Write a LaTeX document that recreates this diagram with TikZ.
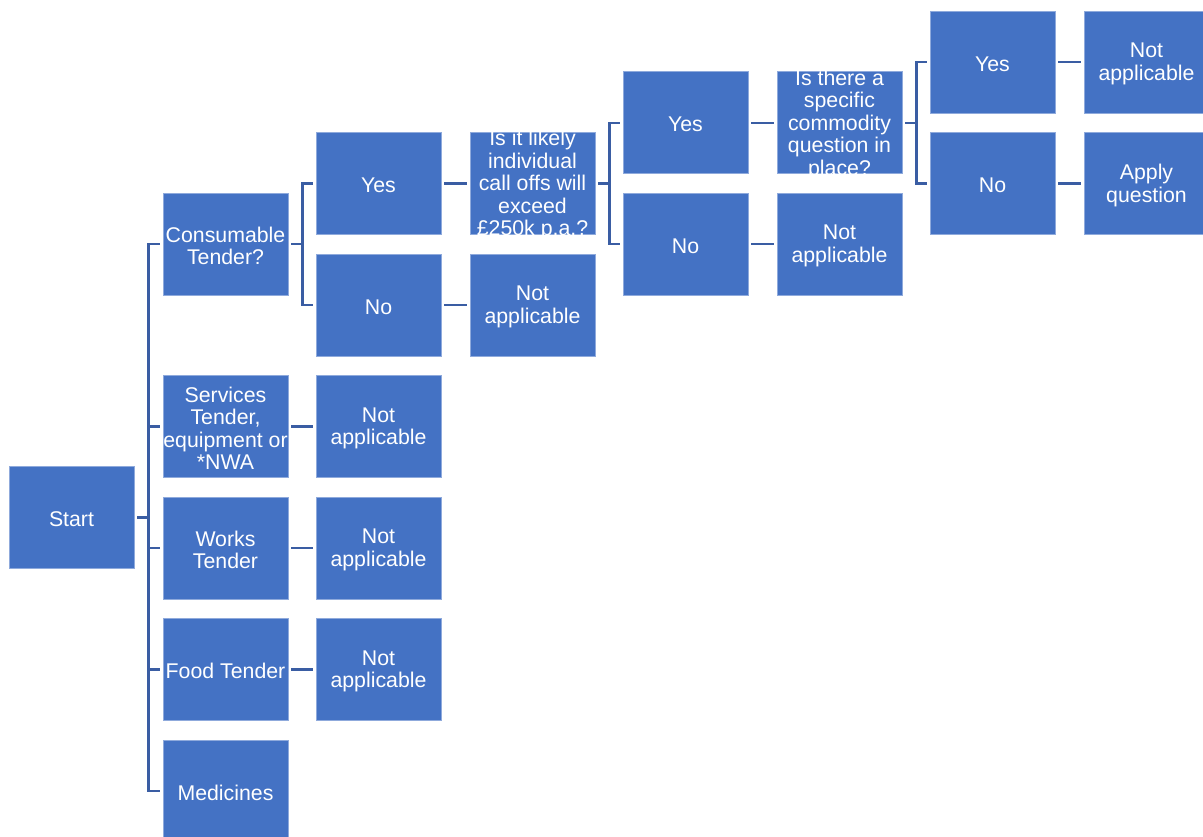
\documentclass[tikz,border=0pt]{standalone}
\usepackage{fontspec}
\setmainfont{Liberation Sans}
\definecolor{boxblue}{HTML}{4472C4}
\definecolor{boxedge}{HTML}{8FAADC}
\definecolor{linkblue}{HTML}{3A5DA3}
\tikzset{
  box/.style={rectangle, fill=boxblue, draw=boxedge, line width=0.6pt,
    minimum width=125pt, minimum height=102pt, inner sep=0pt},
  txt/.style={text=white, align=center, inner sep=0pt,
    font=\fontsize{21.3}{22.5}\selectfont},
  conn/.style={draw=linkblue, line width=2.4pt, shorten <=3pt, shorten >=3pt},
}
\newcommand\bx[4]{%
  \node[box] (#1) at (#2,#3) {};
  \node[txt] (#1-t) at ([yshift=-1.8pt]#1.center) {#4};}
\newcommand\link[2]{\draw[conn] (#1.east) -- ++(14.3pt,0) |- (#2.west);}
\begin{document}
\begin{tikzpicture}[x=1pt,y=-1pt]
\useasboundingbox (0,0) rectangle (1203,836);
\clip (0,0) rectangle (1203,836);
% columns
\def\ca{71.5}\def\cb{225.5}\def\cc{378.5}\def\cd{532.5}
\def\ce{685.5}\def\cf{839.5}\def\cg{992.5}\def\ch{1146.5}
% rows
\def\ra{62}\def\rb{122.75}\def\rc{183.5}\def\rd{244.25}\def\re{305}
\def\rg{426.5}\def\ri{548}\def\rk{669.5}\def\rm{791}
\bx{start}{\ca}{517.6}{Start}
\bx{cons}{\cb}{\rd}{Consumable\\Tender?}
\bx{serv}{\cb}{\rg}{Services\\Tender,\\equipment or\\*NWA}
\bx{works}{\cb}{\ri}{Works\\Tender}
\bx{food}{\cb}{\rk}{Food Tender}
\bx{med}{\cb}{\rm}{Medicines}
\bx{yesa}{\cc}{\rc}{Yes}
\bx{noa}{\cc}{\re}{No}
\bx{naa}{\cc}{\rg}{Not\\applicable}
\bx{nab}{\cc}{\ri}{Not\\applicable}
\bx{nac}{\cc}{\rk}{Not\\applicable}
\bx{qa}{\cd}{\rc}{Is it likely\\individual\\call offs will\\exceed\\\pounds250k p.a.?}
\bx{nad}{\cd}{\re}{Not\\applicable}
\bx{yesb}{\ce}{\rb}{Yes}
\bx{nob}{\ce}{\rd}{No}
\bx{qb}{\cf}{\rb}{Is there a\\specific\\commodity\\question in\\place?}
\bx{nae}{\cf}{\rd}{Not\\applicable}
\bx{yesc}{\cg}{\ra}{Yes}
\bx{noc}{\cg}{\rc}{No}
\bx{naf}{\ch}{\ra}{Not\\applicable}
\bx{apply}{\ch}{\rc}{Apply\\question}
% connectors
\link{start}{cons}
\link{start}{serv}
\link{start}{works}
\link{start}{food}
\link{start}{med}
\link{cons}{yesa}
\link{cons}{noa}
\link{serv}{naa}
\link{works}{nab}
\link{food}{nac}
\link{yesa}{qa}
\link{noa}{nad}
\link{qa}{yesb}
\link{qa}{nob}
\link{yesb}{qb}
\link{nob}{nae}
\link{qb}{yesc}
\link{qb}{noc}
\link{yesc}{naf}
\link{noc}{apply}
\end{tikzpicture}
\end{document}
